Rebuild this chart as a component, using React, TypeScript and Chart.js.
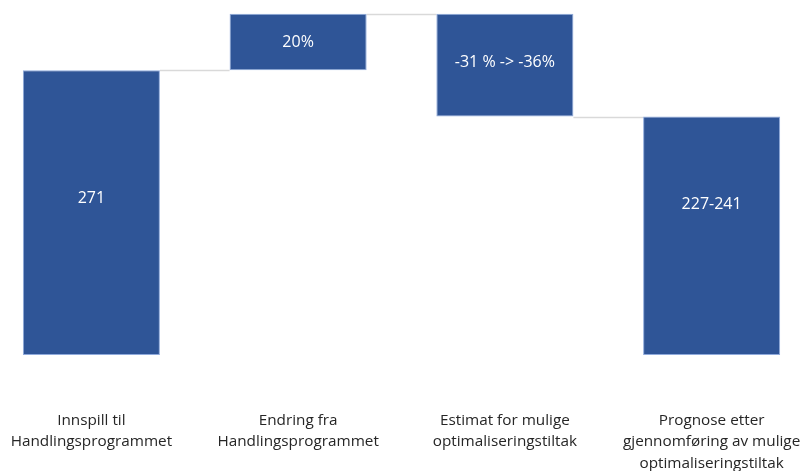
import React, { useEffect, useRef } from "react";
import { Chart, registerables } from "chart.js";

Chart.register(...registerables);

const categories: string[][] = [
  ["Innspill til", "Handlingsprogrammet"],
  ["Endring fra", "Handlingsprogrammet"],
  ["Estimat for mulige", "optimaliseringstiltak"],
  ["Prognose etter", "gjennomføring av mulige", "optimaliseringstiltak"],
];
const barStart: number[] = [0, 271, 227, 0];
const barEnd: number[] = [271, 325, 325, 227];
const valueLabels: string[] = ["271", "20%", "-31 % -> -36%", "227-241"];
const connectorLevels: number[] = [271, 325, 227];
const labelAnchor: number[] = [0.55, 0.5, 0.53, 0.63];

const FONT = "'Open Sans', sans-serif";

const waterfallPlugin = {
  id: "waterfallExtras",
  beforeDatasetsDraw(chart: any) {
    const ctx = chart.ctx;
    const meta = chart.getDatasetMeta(0);
    const y = chart.scales.y;
    ctx.save();
    ctx.strokeStyle = "#D9D9D9";
    ctx.lineWidth = 1.5;
    for (let i = 0; i < connectorLevels.length; i++) {
      const a = meta.data[i];
      const b = meta.data[i + 1];
      if (!a || !b) continue;
      const yy = Math.round(y.getPixelForValue(connectorLevels[i])) + 0.5;
      ctx.beginPath();
      ctx.moveTo(a.x + a.width / 2, yy);
      ctx.lineTo(b.x - b.width / 2, yy);
      ctx.stroke();
    }
    ctx.restore();
  },
  afterDatasetsDraw(chart: any) {
    const ctx = chart.ctx;
    const meta = chart.getDatasetMeta(0);
    const y = chart.scales.y;
    ctx.save();
    ctx.fillStyle = "#FFFFFF";
    ctx.font = `16px ${FONT}`;
    ctx.textAlign = "center";
    ctx.textBaseline = "middle";
    meta.data.forEach((el: any, i: number) => {
      const lo = Math.min(barStart[i], barEnd[i]);
      const hi = Math.max(barStart[i], barEnd[i]);
      const v = lo + (hi - lo) * labelAnchor[i];
      ctx.fillText(valueLabels[i], el.x, y.getPixelForValue(v));
    });
    ctx.restore();
  },
};

export default function App() {
  const ref = useRef<HTMLCanvasElement | null>(null);
  useEffect(() => {
    document.body.style.overflow = "hidden";
    const chart = new Chart(ref.current as HTMLCanvasElement, {
      type: "bar",
      data: {
        labels: categories as any,
        datasets: [
          {
            data: barStart.map((s, i) => [s, barEnd[i]]) as any,
            backgroundColor: "#2F5597",
            borderColor: "#8FAADC",
            borderWidth: 1,
            borderSkipped: false,
            categoryPercentage: 1,
            barPercentage: 0.663,
          },
        ],
      },
      options: {
        animation: false,
        responsive: false,
        devicePixelRatio: 1,
        layout: { padding: 0 },
        plugins: {
          legend: { display: false },
          tooltip: { enabled: false },
        },
        scales: {
          x: {
            grid: { display: false, drawTicks: false },
            border: { display: false },
            ticks: {
              color: "#262626",
              font: { family: FONT, size: 15.3, lineHeight: 1.4 },
              padding: 55,
              maxRotation: 0,
              autoSkip: false,
            },
            afterFit: (scale: any) => {
              scale.height = 116;
              scale.paddingLeft = 0;
              scale.paddingRight = 0;
            },
          },
          y: {
            display: false,
            min: 0,
            max: 338,
          },
        },
      },
      plugins: [waterfallPlugin],
    });
    return () => chart.destroy();
  }, []);
  return (
    <div style={{ position: "fixed", left: -12, top: 0, width: 827, height: 471 }}>
      <canvas ref={ref} width={827} height={471} style={{ display: "block", width: 827, height: 471 }} />
    </div>
  );
}
